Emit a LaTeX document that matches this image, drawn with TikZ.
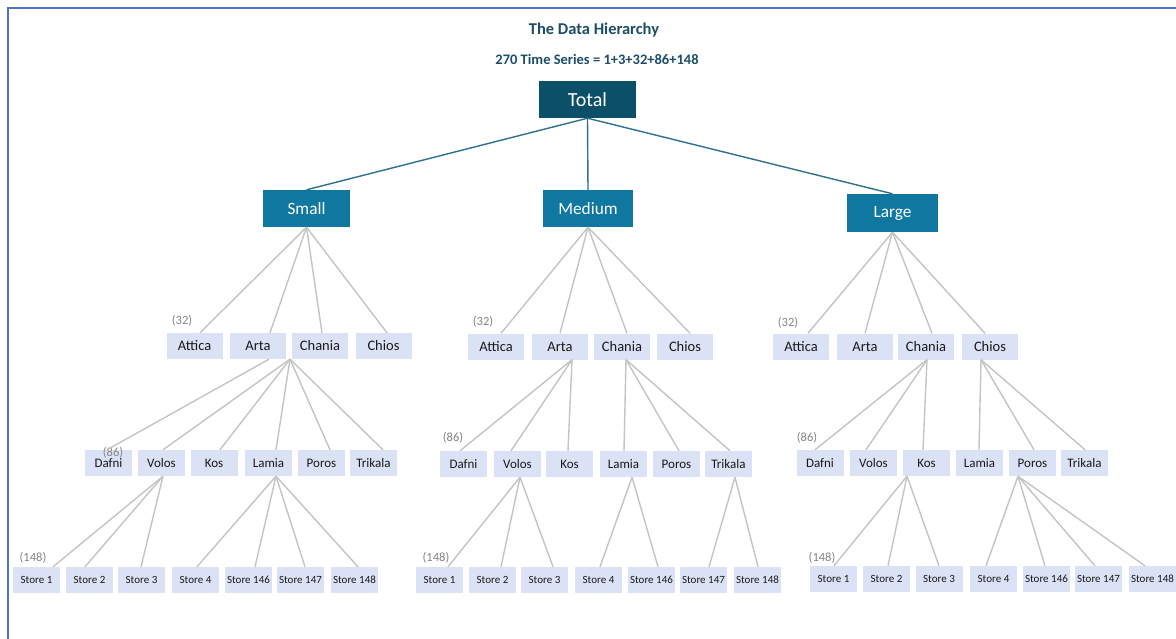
\documentclass[tikz,border=0pt]{standalone}
\usepackage{fontspec}
\setmainfont{Carlito}
\definecolor{totalc}{HTML}{0B4F68}
\definecolor{midc}{HTML}{1077A1}
\definecolor{boxc}{HTML}{DCE2F5}
\definecolor{titlec}{HTML}{1C4E68}
\definecolor{topline}{HTML}{2F7090}
\definecolor{greyline}{HTML}{C4C4C4}
\definecolor{framec}{HTML}{4A76C8}
\definecolor{cntc}{HTML}{858585}
\begin{document}
\begin{tikzpicture}[x=1pt,y=-1pt,
  totbox/.style={fill=totalc, text=white, inner sep=0, minimum width=97pt, minimum height=37pt, font=\fontsize{20}{20}\selectfont},
  midbox/.style={fill=midc, text=white, inner sep=0, minimum width=88pt, minimum height=37pt, font=\fontsize{17.3}{17.3}\selectfont},
  lthree/.style={fill=boxc, text=black!90, inner sep=0, minimum width=56pt, minimum height=26pt, font=\fontsize{14.5}{14.5}\selectfont},
  lfour/.style={fill=boxc, text=black!90, inner sep=0, minimum width=47pt, minimum height=26pt, font=\fontsize{13}{13}\selectfont},
  lfive/.style={fill=boxc, text=black!90, inner sep=0, minimum width=47pt, minimum height=26pt, font=\fontsize{11}{11}\selectfont},
  cnt/.style={text=cntc, inner sep=0, font=\fontsize{12.5}{12.5}\selectfont},
  tl/.style={draw=topline, line width=1.4pt},
  gl/.style={draw=greyline, line width=1.4pt}]
\useasboundingbox (0,0) rectangle (1176,639);
\fill[white] (0,0) rectangle (1176,639);
\draw[draw=framec, line width=1.6pt] (8,639) -- (8,8) -- (1176,8);

% titles
\node[text=titlec, font=\bfseries\fontsize{16.5}{16.5}\selectfont] (title) at (594,30) {The Data Hierarchy};
\node[text=titlec, font=\bfseries\fontsize{14.5}{14.5}\selectfont] (subtitle) at (597,59) {270 Time Series = 1+3+32+86+148};

% top levels
\node[totbox] (total) at (587.5,99.5) {Total};
\node[midbox, minimum width=87pt] (small) at (306.5,208.5) {Small};
\node[midbox, minimum width=90pt] (medium) at (588,208.5) {Medium};
\node[midbox, minimum width=91pt, minimum height=38pt] (large) at (892.5,213) {Large};
\draw[tl] (total.south) -- (small.north);
\draw[tl] (total.south) -- (medium.north);
\draw[tl] (total.south) -- (large.north);

% ---------- level 3
\foreach \p/\y/\a/\b/\c/\d in {s/346/194.5/258/320/383.5, m/346.5/496/560/622/685, l/346.5/801/865/926/990}{
  \node[lthree] (\p Attica) at (\a,\y) {Attica};
  \node[lthree] (\p Arta) at (\b,\y) {Arta};
  \node[lthree] (\p Chania) at (\c,\y) {Chania};
  \node[lthree] (\p Chios) at (\d,\y) {Chios};
}
\node[cnt] (sc32) at (182,321) {(32)};
\node[cnt] (mc32) at (483,322) {(32)};
\node[cnt] (lc32) at (788,323) {(32)};

\foreach \c/\d in {Attica/5.5, Arta/12, Chania/2, Chios/3.5}
  \draw[gl] (small.south) -- ([xshift=\d]s\c.north);
\foreach \c/\d in {Attica/5, Arta/0, Chania/5, Chios/5}
  \draw[gl] (medium.south) -- ([xshift=\d]m\c.north);
\foreach \c/\d in {Attica/7, Arta/0, Chania/6, Chios/-5}
  \draw[gl] (large.south) -- ([xshift=\d]l\c.north);

% ---------- level 4
\foreach \p/\y/\a/\b/\c/\d/\e/\f in {s/463/108.5/161.5/214/268.5/321.5/373.5, m/464/463.5/517.5/569.5/623.5/676.5/728.5, l/463/820/873.5/926.5/979.5/1032.5/1084.5}{
  \node[lfour] (\p Dafni) at (\a,\y) {Dafni};
  \node[lfour] (\p Volos) at (\b,\y) {Volos};
  \node[lfour] (\p Kos) at (\c,\y) {Kos};
  \node[lfour] (\p Lamia) at (\d,\y) {Lamia};
  \node[lfour] (\p Poros) at (\e,\y) {Poros};
  \node[lfour] (\p Trikala) at (\f,\y) {Trikala};
}
\node[cnt] (sc86) at (113,453) {(86)};
\node[cnt] (mc86) at (453,438) {(86)};
\node[cnt] (lc86) at (807,438) {(86)};

\draw[gl] ([xshift=11]sArta.south) -- ([xshift=-1.5]sDafni.north);
\foreach \c/\d in {Volos/1.5, Kos/6, Lamia/7.5, Poros/8.5, Trikala/9.5}
  \draw[gl] ([xshift=-30]sChania.south) -- ([xshift=\d]s\c.north);

\foreach \c/\d in {Dafni/-3.5, Volos/-6.5, Kos/-1.5}
  \draw[gl] ([xshift=12]mArta.south) -- ([xshift=\d]m\c.north);
\foreach \c/\d in {Lamia/0.5, Poros/2.5, Trikala/1.5}
  \draw[gl] ([xshift=4]mChania.south) -- ([xshift=\d]m\c.north);

\foreach \c/\d in {Dafni/-5, Volos/-7.5, Kos/-3.5}
  \draw[gl] ([xshift=1]lChania.south) -- ([xshift=\d]l\c.north);
\foreach \c/\d in {Lamia/-0.5, Poros/1.5, Trikala/0.5}
  \draw[gl] ([xshift=-9]lChios.south) -- ([xshift=\d]l\c.north);

% ---------- level 5
\foreach \p/\y/\a/\b/\c/\d/\e/\f/\g in {s/580/36.5/89.5/141.5/195.5/248.5/300.5/354.5, m/580/439.5/492.5/544.5/598.5/651.5/703.5/757.5, l/579/833.5/886.5/939/993.5/1046.5/1098.5/1152.5}{
  \node[lfive] (\p S1) at (\a,\y) {Store 1};
  \node[lfive] (\p S2) at (\b,\y) {Store 2};
  \node[lfive] (\p S3) at (\c,\y) {Store 3};
  \node[lfive] (\p S4) at (\d,\y) {Store 4};
  \node[lfive] (\p S146) at (\e,\y) {Store 146};
  \node[lfive] (\p S147) at (\f,\y) {Store 147};
  \node[lfive] (\p S148) at (\g,\y) {Store 148};
}
\node[cnt] (sc148) at (33,558) {(148)};
\node[cnt] (mc148) at (436,558) {(148)};
\node[cnt] (lc148) at (822,558) {(148)};

\foreach \c/\d in {S1/16.5, S2/-4.5, S3/-0.5}
  \draw[gl] ([xshift=1.5]sVolos.south) -- ([xshift=\d]s\c.north);
\foreach \c/\d in {S4/1.5, S146/6.5, S147/4.5, S148/3.5}
  \draw[gl] ([xshift=7.5]sLamia.south) -- ([xshift=\d]s\c.north);

\foreach \c/\d in {S1/8.5, S2/8.5, S3/8.5}
  \draw[gl] ([xshift=2.5]mVolos.south) -- ([xshift=\d]m\c.north);
\foreach \c/\d in {S4/1.5, S146/6.5}
  \draw[gl] ([xshift=8.5]mLamia.south) -- ([xshift=\d]m\c.north);
\foreach \c/\d in {S147/5.5, S148/0.5}
  \draw[gl] ([xshift=6.5]mTrikala.south) -- ([xshift=\d]m\c.north);

\foreach \c/\d in {S1/0.5, S2/1.5, S3/0}
  \draw[gl] ([xshift=-19.5]lKos.south) -- ([xshift=\d]l\c.north);
\foreach \c/\d in {S4/-7.5, S146/-1.5, S147/-3.5, S148/-7.5}
  \draw[gl] ([xshift=-14.5]lPoros.south) -- ([xshift=\d]l\c.north);
\end{tikzpicture}
\end{document}
